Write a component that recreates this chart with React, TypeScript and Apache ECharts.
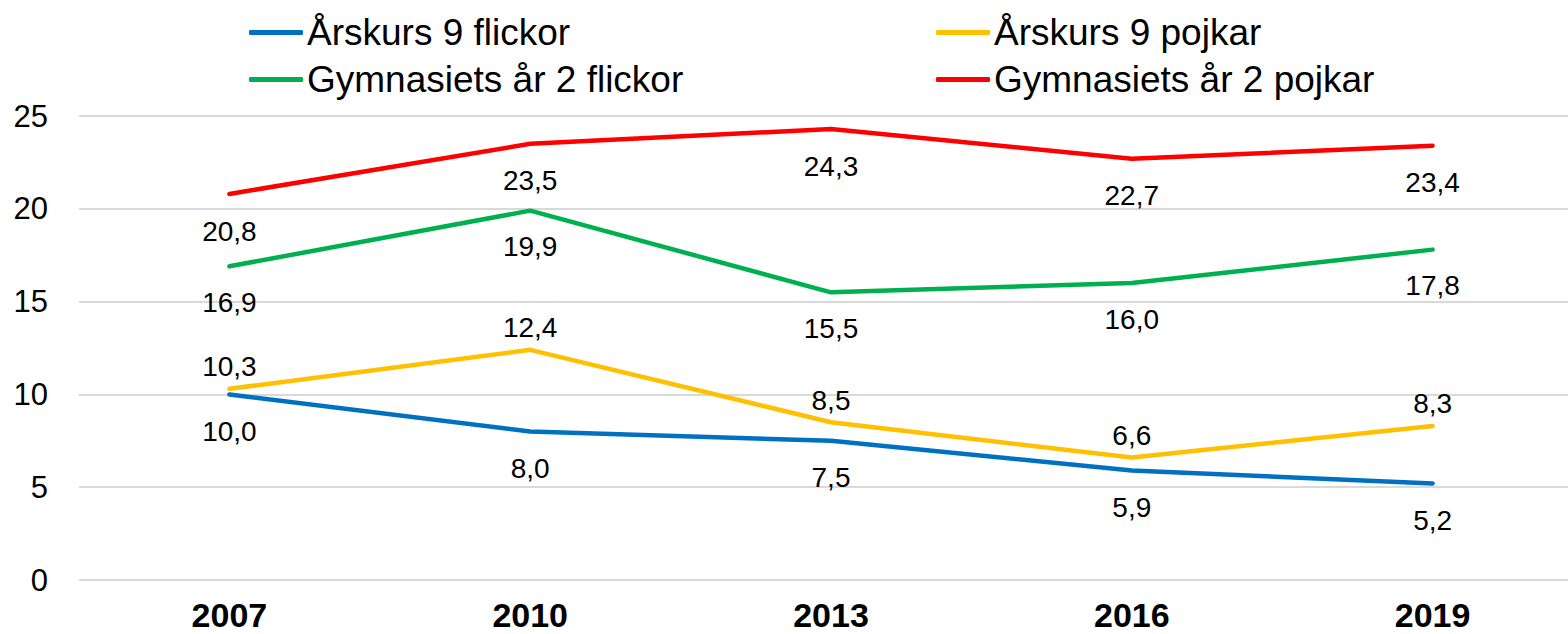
import React, { useEffect, useRef } from "react";
import * as echarts from "echarts";

const years = ["2007", "2010", "2013", "2016", "2019"];
const ak9Flickor = [10.0, 8.0, 7.5, 5.9, 5.2];
const ak9Pojkar = [10.3, 12.4, 8.5, 6.6, 8.3];
const gy2Flickor = [16.9, 19.9, 15.5, 16.0, 17.8];
const gy2Pojkar = [20.8, 23.5, 24.3, 22.7, 23.4];
const yTicks = [0, 5, 10, 15, 20, 25];

const FONT = "'Liberation Sans', Arial, sans-serif";
const fmt = (v: number) => v.toFixed(1).replace(".", ",");

export default function App() {
  const ref = useRef<HTMLDivElement>(null);
  useEffect(() => {
    if (!ref.current) return;
    const chart = echarts.init(ref.current, null, { renderer: "svg" });
    const mk = (name: string, data: number[], color: string, pos: string, dist: number) => ({
      name,
      type: "line",
      data,
      symbol: "circle",
      symbolSize: 0.1,
      showSymbol: true,
      lineStyle: { color, width: 4.5, cap: "round" },
      itemStyle: { color },
      label: {
        show: true,
        position: pos,
        distance: dist,
        formatter: (p: any) => fmt(p.value),
        fontFamily: FONT,
        fontSize: 28,
        color: "#000",
      },
    });
    const legendItem = (name: string, left: number, top: number, color: string) => ({
      data: [{ name, itemStyle: { color } }],
      left,
      top,
      icon: "roundRect",
      itemWidth: 54,
      itemHeight: 5,
      itemGap: 4,
      textStyle: { fontFamily: FONT, fontSize: 37, color: "#000", padding: [0, 0, 0, -1] },
      selectedMode: false,
    });
    chart.setOption({
      animation: false,
      backgroundColor: "#fff",
      legend: [
        legendItem("Årskurs 9 flickor", 244, 9, "#0070C0"),
        legendItem("Årskurs 9 pojkar", 931, 9, "#FFC000"),
        legendItem("Gymnasiets år 2 flickor", 244, 56, "#00B050"),
        legendItem("Gymnasiets år 2 pojkar", 931, 56, "#FF0000"),
      ],
      grid: { left: 79, right: 0, top: 116, bottom: 54, containLabel: false },
      xAxis: {
        type: "category",
        data: years,
        boundaryGap: true,
        axisLine: { show: false },
        axisTick: { show: false },
        axisLabel: {
          fontFamily: FONT,
          fontSize: 34,
          lineHeight: 34,
          fontWeight: "bold",
          color: "#000",
          margin: 18,
        },
      },
      yAxis: {
        type: "value",
        min: yTicks[0],
        max: yTicks[yTicks.length - 1],
        interval: 5,
        axisLine: { show: false },
        axisTick: { show: false },
        splitLine: { lineStyle: { color: "#d9d9d9", width: 2 } },
        axisLabel: { fontFamily: FONT, fontSize: 31, color: "#000", margin: 31 },
      },
      series: [
        mk("Årskurs 9 flickor", ak9Flickor, "#0070C0", "bottom", 23),
        mk("Årskurs 9 pojkar", ak9Pojkar, "#FFC000", "top", 8),
        mk("Gymnasiets år 2 flickor", gy2Flickor, "#00B050", "bottom", 22),
        mk("Gymnasiets år 2 pojkar", gy2Pojkar, "#FF0000", "bottom", 23),
      ],
    });
    return () => chart.dispose();
  }, []);
  return (
    <div style={{ position: "fixed", left: 0, top: 0, width: 1568, height: 634, overflow: "hidden", background: "#fff" }}>
      <div ref={ref} style={{ width: 1583, height: 634 }} />
    </div>
  );
}
